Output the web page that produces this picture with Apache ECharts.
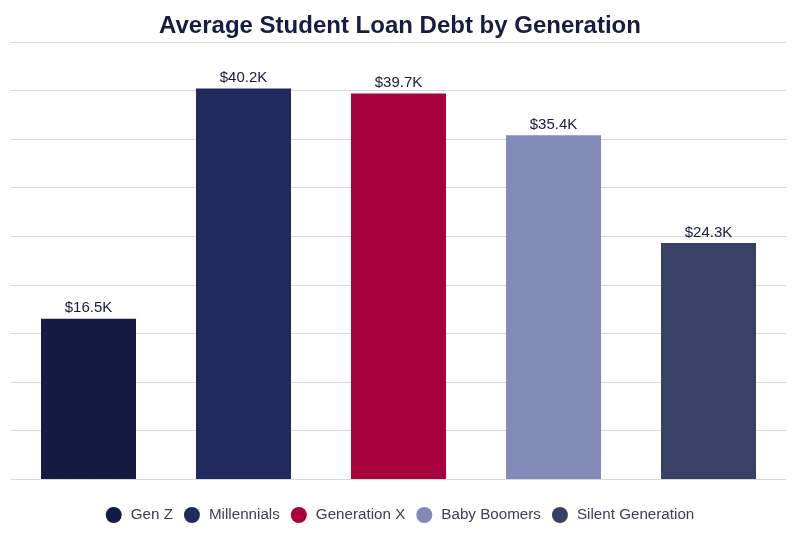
<!DOCTYPE html>
<html><head><meta charset="utf-8">
<script src="https://cdn.jsdelivr.net/npm/echarts@6/dist/echarts.min.js"></script>
<style>html,body{margin:0;padding:0;background:#fff}#c{width:800px;height:534px}</style>
</head><body><div id="c"></div>
<script>
const categories = ['Gen Z', 'Millennials', 'Generation X', 'Baby Boomers', 'Silent Generation'];
const values = [16.5, 40.2, 39.7, 35.4, 24.3];
const colors = ['#141b42', '#212a5c', '#a8023c', '#808bb7', '#394066'];
const yTicks = {min: 0, max: 45, interval: 5};

const FONT = 'Liberation Sans, Arial, sans-serif';
const chart = echarts.init(document.getElementById('c'));
const series = categories.map((name, i) => {
  const s = {
    name: name,
    type: 'bar',
    barWidth: 95,
    barGap: '-100%',
    itemStyle: {color: colors[i]},
    label: {show: true, position: 'top', distance: 3, color: '#181c3a', fontSize: 15,
      fontFamily: FONT,
      formatter: p => '$' + p.value.toFixed(1) + 'K'},
    data: categories.map((c, j) => j === i ? values[i] : null)
  };
  if (i === 0) {
    s.itemStyle.decal = {symbol: 'circle', symbolSize: 0.35, color: 'rgba(70,80,150,0.45)',
      dashArrayX: [[1, 0], [1, 0]], dashArrayY: [3, 3], rotation: 0.5};
  }
  return s;
});
chart.setOption({
  animation: false,
  color: colors,
  title: {text: 'Average Student Loan Debt by Generation', left: 'center', top: 9,
    textStyle: {fontFamily: FONT, fontSize: 24, fontWeight: 'bold', color: '#161c42'}},
  legend: {bottom: 6, icon: 'circle', itemWidth: 16, itemHeight: 16, itemGap: 11,
    textStyle: {fontFamily: FONT, fontSize: 15.2, color: '#3a3d5c', padding: [0, 0, 0, 4]},
    data: categories},
  grid: {left: 11, right: 14, top: 42, bottom: 55, containLabel: false},
  xAxis: {type: 'category', data: categories, axisLabel: {show: false}, axisTick: {show: false},
    axisLine: {show: false}},
  yAxis: {type: 'value', min: yTicks.min, max: yTicks.max, interval: yTicks.interval,
    axisLabel: {show: false}, axisLine: {show: false}, axisTick: {show: false},
    splitLine: {lineStyle: {color: '#d9d9d9', width: 1}}},
  series: series
});
</script></body></html>
